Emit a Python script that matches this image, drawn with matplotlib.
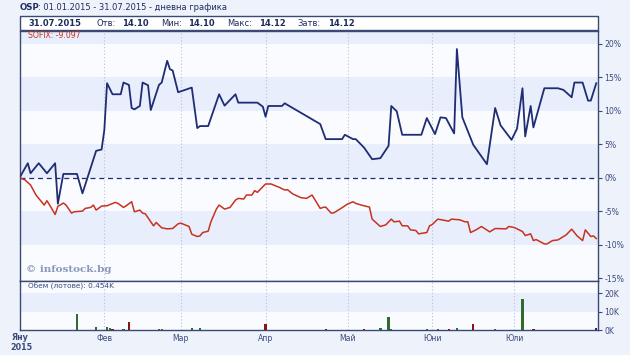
import matplotlib
matplotlib.use("Agg")
import matplotlib.pyplot as plt
from matplotlib.patches import Rectangle

W, H = 630, 355

# ---------------- data ----------------
osp_days = [0, 3, 4, 7, 10, 13, 14, 16, 21, 23, 28, 30, 31, 32, 34, 37, 38, 40, 41, 42, 44, 45,
            47, 48, 51, 52, 54, 55, 56, 58, 63, 65, 66, 69, 73, 75, 79, 80, 87, 89, 90, 91, 96,
            97, 110, 112, 118, 119, 122, 123, 126, 129, 132, 135, 136, 138, 140, 147, 149, 152,
            154, 156, 159, 160, 162, 166, 171, 174, 176, 180, 182, 184, 185, 187, 188, 192, 197,
            199, 202, 203, 206, 208, 209, 211]
osp_pct = [0.0, 2.15, 0.65, 2.15, 0.65, 2.15, -3.9, 0.55, 0.55, -2.35, 4.0, 4.2, 7.1, 14.1, 12.45,
           12.45, 14.2, 13.85, 10.4, 10.2, 10.7, 14.2, 13.8, 10.1, 13.85, 14.2, 17.45, 16.2, 16.0,
           12.75, 13.45, 7.4, 7.7, 7.7, 12.45, 10.75, 12.45, 11.2, 11.2, 10.6, 9.1, 10.7, 10.7,
           11.1, 8.0, 5.75, 5.75, 6.4, 5.75, 5.75, 4.5, 2.75, 2.9, 4.75, 10.7, 9.9, 6.4, 6.4, 8.9,
           6.5, 9.0, 8.9, 6.6, 19.2, 9.0, 4.9, 2.0, 10.4, 7.8, 5.65, 7.3, 13.35, 6.15, 10.7, 7.5,
           13.35, 13.35, 13.1, 12.0, 14.2, 14.2, 11.5, 11.5, 14.1]

sofix_days = [0, 2, 4, 6, 9, 10, 11, 13, 14, 16, 17, 19, 20, 23, 24, 26, 27, 28, 30, 32, 35, 36,
              38, 39, 41, 42, 44, 45, 46, 49, 50, 52, 54, 56, 58, 59, 62, 63, 65, 66, 67, 69, 70,
              72, 73, 75, 77, 79, 80, 82, 83, 85, 86, 87, 90, 92, 95, 97, 98, 100, 103, 105, 107,
              110, 111, 112, 114, 115, 117, 120, 122, 123, 125, 128, 129, 132, 134, 136, 137, 139,
              140, 142, 143, 145, 146, 149, 150, 151, 153, 157, 158, 161, 163, 164, 165, 167, 169,
              172, 174, 178, 179, 181, 182, 184, 185, 187, 188, 189, 192, 193, 195, 197, 200, 202,
              204, 206, 207, 209, 210, 211]
sofix_pct = [0.0, -0.35, -1.1, -2.6, -4.1, -3.45, -4.1, -5.5, -4.3, -3.8, -4.1, -5.3, -5.1, -5.0,
             -4.6, -4.45, -4.1, -4.85, -4.25, -4.2, -3.7, -3.85, -4.45, -4.2, -3.6, -5.1, -4.85,
             -5.3, -5.4, -7.2, -6.7, -7.5, -7.65, -7.6, -6.9, -6.8, -7.3, -8.45, -8.8, -8.7, -8.2,
             -8.0, -6.6, -4.7, -4.1, -4.7, -4.45, -3.35, -3.1, -3.2, -2.6, -2.6, -1.95, -2.2, -0.95,
             -0.95, -1.45, -1.85, -1.8, -2.45, -3.0, -3.1, -2.6, -4.6, -4.45, -4.4, -5.3, -5.25,
             -4.75, -3.95, -3.6, -3.85, -4.1, -4.4, -6.2, -7.3, -7.05, -6.2, -6.6, -6.5, -7.2, -7.2,
             -7.8, -7.9, -8.4, -8.2, -7.2, -7.0, -6.2, -6.5, -6.2, -6.3, -6.6, -6.6, -8.2, -7.8,
             -7.3, -8.1, -7.6, -7.65, -7.3, -7.45, -7.65, -8.05, -8.65, -8.4, -9.4, -9.25, -9.9,
             -9.9, -9.4, -9.3, -8.55, -7.7, -8.7, -9.4, -7.8, -8.8, -8.7, -9.097]

vol_days = [7, 21, 28, 32, 33, 34, 38, 40, 51, 52, 63, 66, 72, 74, 80, 84, 89, 90, 112, 122, 126,
            132, 135, 136, 149, 153, 157, 160, 166, 174, 184, 188, 211]
vol_k = [0.2, 8.6, 1.6, 1.5, 1.2, 0.5, 0.4, 4.5, 0.3, 0.3, 0.9, 1.0, 0.2, 0.2, 0.2, 0.2, 0.2, 3.0,
         0.3, 0.2, 0.3, 0.9, 7.2, 0.8, 0.5, 0.4, 0.3, 1.0, 3.4, 0.5, 16.5, 0.3, 1.3]
vol_dir = ['g', 'g', 'g', 'g', 'g', 'r', 'g', 'r', 'g', 'g', 'g', 'g', 'r', 'r', 'r', 'r', 'r', 'r',
           'r', 'g', 'r', 'g', 'g', 'g', 'g', 'g', 'r', 'g', 'r', 'g', 'g', 'r', 'b']

month_days = [0, 31, 59, 90, 120, 151, 181]
month_labels = ['Яну', 'Фев', 'Мар', 'Апр', 'Май', 'Юни', 'Юли']
pct_ticks = [20, 15, 10, 5, 0, -5, -10, -15]
vol_ticks = [20, 10, 0]

# ---------------- style ----------------
BG = '#eef2fb'
PLOT_BG = '#fafbff'
BAND = '#e8eefb'
NAVY = '#1f2d74'
RED = '#c8321e'
TXT = '#3a4a7c'
SPINE = '#3a4a72'
GRID = '#b9c1e0'
vcol = {'g': '#2f6b2f', 'r': '#8a1414', 'b': '#1f2d74'}

plt.rcParams['font.family'] = ['DejaVu Sans']

fig = plt.figure(figsize=(W / 100, H / 100), dpi=100)
fig.patch.set_facecolor(BG)


def frac(x0, y0, x1, y1):
    return [x0 / W, 1 - y1 / H, (x1 - x0) / W, (y1 - y0) / H]


XL, XR = 19.6, 598.3
ax = fig.add_axes(frac(XL, 31, XR, 281))
axv = fig.add_axes(frac(XL, 281, XR, 330), sharex=ax)

xmax = (XR - XL) / 2.733
ax.set_xlim(0, xmax)
ax.set_ylim(-15.44, 21.9)
axv.set_ylim(0, 26.5)

for a in (ax, axv):
    a.set_facecolor(PLOT_BG)
    for s in a.spines.values():
        s.set_color(SPINE)
        s.set_linewidth(1.0)
    a.yaxis.tick_right()
    a.tick_params(axis='y', direction='out', length=3, width=0.8, color=SPINE,
                  labelsize=5.6, labelcolor=TXT, pad=1.5)
    for d in month_days[1:]:
        a.axvline(d, color=GRID, lw=0.8, ls=(0, (1, 2)), zorder=1)

# bands
for lo, hi in [(20, 22), (10, 15), (0, 5), (-10, -5)]:
    ax.axhspan(lo, hi, color=BAND, lw=0, zorder=0)
axv.axhspan(10, 20, color=BAND, lw=0, zorder=0)

ax.axhline(0, color=NAVY, lw=0.9, ls=(0, (4, 3)), zorder=2)
ax.plot(sofix_days, sofix_pct, color=RED, lw=1.1, zorder=3)
ax.plot(osp_days, osp_pct, color=NAVY, lw=1.3, zorder=4)

ax.set_yticks(pct_ticks)
ax.set_yticklabels([f'{t}%' for t in pct_ticks])
ax.tick_params(axis='x', bottom=False, labelbottom=False)

axv.bar(vol_days, vol_k, width=0.85, color=[vcol[c] for c in vol_dir], zorder=3)
axv.set_yticks(vol_ticks)
axv.set_yticklabels([f'{t}K' for t in vol_ticks])
axv.set_xticks(month_days)
axv.set_xticklabels([''] + month_labels[1:])
axv.tick_params(axis='x', length=0, labelsize=5.6, labelcolor=TXT, pad=3)

# first month label, bold with year
fig.text(20 / W, 1 - 337 / H, month_labels[0], ha='center', va='center', fontsize=5.8,
         fontweight='bold', color=TXT)
fig.text(21 / W, 1 - 348 / H, '2015', ha='center', va='center', fontsize=5.8,
         fontweight='bold', color=TXT)

# labels inside panels
fig.text(28 / W, 1 - 36 / H, 'SOFIX: -9.097', fontsize=5.6, color=RED, va='center', ha='left')
fig.text(26 / W, 1 - 270 / H, '© infostock.bg', fontsize=7.5, color='#8a97bd', va='center',
         ha='left', family='DejaVu Serif', fontweight='bold')
fig.text(28 / W, 1 - 286 / H, 'Обем (лотове): 0.454K', fontsize=5.3, color=TXT, va='center', ha='left')

# title
fig.text(20 / W, 1 - 8 / H, 'OSP', fontsize=6.2, fontweight='bold', color='#1f2d5c', va='center', ha='left')
fig.text(38 / W, 1 - 8 / H, ': 01.01.2015 - 31.07.2015 - дневна графика', fontsize=6.0,
         color='#1f2d5c', va='center', ha='left')

# header box
fig.patches.append(Rectangle((20 / W, 1 - 29.5 / H), (598 - 20) / W, 13.5 / H,
                             transform=fig.transFigure, facecolor='white', edgecolor=SPINE,
                             lw=1.0, zorder=0))
items = [(28, '31.07.2015', True), (96, 'Отв:', False), (122, '14.10', True),
         (161, 'Мин:', False), (188, '14.10', True), (227, 'Макс:', False), (259, '14.12', True),
         (297, 'Затв:', False), (328, '14.12', True)]
for x, s, b in items:
    fig.text(x / W, 1 - 23 / H, s, fontsize=6.0, fontweight='bold' if b else 'normal',
             color='#1f2d5c', va='center', ha='left')

fig.savefig('out.png', dpi=100, facecolor=BG)
